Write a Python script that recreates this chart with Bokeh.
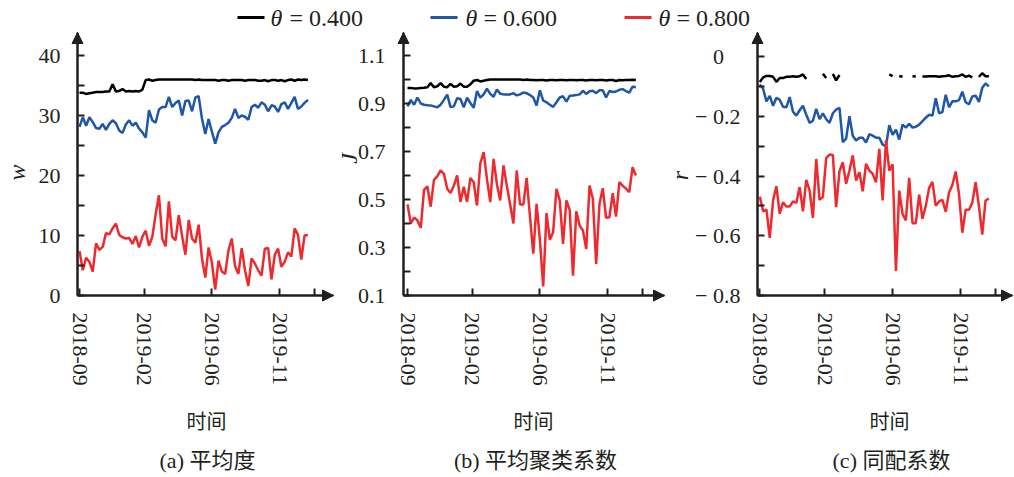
import math
from bokeh.plotting import figure
from bokeh.layouts import column, row
from bokeh.models import Range1d, FixedTicker, Arrow, NormalHead, CustomJSTickFormatter, Label
from bokeh.core.properties import value
from bokeh.embed import file_html
from bokeh.resources import INLINE

nan = float("nan")

# ---------------- data ----------------
x_index = list(range(70))
xtick_pos = [0, 19.5, 40, 60.5]
xtick_labels = ["2018-09", "2019-02", "2019-06", "2019-11"]
xtick_extra = [71]

theta_labels = ["0.400", "0.600", "0.800"]
colors = ["#000000", "#1f56a8", "#ee2a2e"]

# (a) average degree w
deg_040 = [33.8, 33.8, 33.6, 33.7, 33.8, 33.9, 33.9, 33.9, 34.0, 34.0,
           35.2, 34.0, 34.1, 34.4, 34.0, 34.1, 34.0, 34.1, 34.0, 34.3,
           35.9, 36.0, 35.8, 35.9, 36.0, 36.0, 36.0, 36.0, 36.0, 36.0,
           36.0, 36.0, 36.0, 36.0, 36.0, 35.9, 36.0, 35.9, 35.9, 35.9,
           35.9, 35.9, 35.8, 35.9, 35.9, 35.8, 35.9, 35.9, 35.9, 35.9,
           35.8, 35.9, 35.9, 35.9, 35.8, 35.8, 35.9, 35.7, 35.9, 35.9,
           35.8, 35.9, 35.7, 35.9, 36.0, 35.8, 36.0, 35.9, 36.0, 35.9]
deg_060 = [28.1, 29.7, 28.3, 29.7, 28.9, 27.9, 27.8, 28.6, 27.6, 28.6,
           29.2, 28.7, 27.5, 27.1, 28.5, 29.2, 28.3, 28.8, 27.8, 27.2,
           26.3, 30.9, 29.2, 28.8, 31.0, 31.4, 31.4, 33.1, 31.4, 32.1,
           32.5, 30.0, 32.4, 32.5, 30.7, 33.0, 33.2, 29.5, 26.9, 29.4,
           27.3, 25.3, 27.2, 28.1, 28.4, 28.8, 29.6, 31.1, 29.6, 30.0,
           29.8, 29.3, 31.4, 31.8, 31.3, 32.2, 31.8, 30.7, 31.7, 31.5,
           30.6, 31.9, 32.2, 31.1, 32.1, 33.1, 31.1, 31.5, 32.1, 32.6]
deg_080 = [7.4, 4.2, 6.3, 5.6, 4.0, 8.7, 7.6, 8.1, 10.4, 10.2,
           11.2, 12.0, 10.1, 9.7, 9.5, 9.6, 8.6, 9.9, 8.0, 9.8,
           10.8, 8.3, 9.8, 13.5, 16.7, 9.5, 8.2, 15.7, 9.8, 9.2,
           13.4, 9.9, 6.8, 12.6, 9.5, 8.8, 11.8, 6.2, 3.0, 8.0,
           5.5, 1.0, 5.8, 4.0, 3.6, 7.5, 9.5, 4.9, 3.6, 7.9,
           4.2, 1.6, 6.2, 5.3, 4.2, 3.3, 7.8, 7.9, 2.7, 6.8,
           7.8, 4.8, 5.6, 7.2, 6.5, 11.2, 10.1, 6.0, 10.0, 10.1]

# (b) average clustering coefficient J
clu_040 = [0.965, 0.965, 0.963, 0.963, 0.965, 0.966, 0.968, 0.985, 0.968, 0.972,
           0.985, 0.970, 0.968, 0.982, 0.970, 0.972, 0.983, 0.970, 0.970, 0.980,
           0.995, 0.998, 0.992, 0.995, 0.998, 1.000, 1.000, 1.000, 1.000, 1.000,
           1.000, 1.000, 1.000, 1.000, 1.000, 0.998, 1.000, 0.998, 0.998, 0.997,
           0.998, 0.998, 0.996, 0.998, 0.998, 0.997, 0.998, 0.998, 0.997, 0.998,
           0.998, 0.997, 0.998, 0.998, 0.996, 0.998, 0.998, 0.997, 0.998, 0.998,
           0.996, 0.998, 0.998, 0.994, 0.998, 0.997, 0.998, 0.998, 0.999, 0.998]
clu_060 = [0.888, 0.915, 0.895, 0.925, 0.900, 0.895, 0.893, 0.892, 0.888, 0.884,
           0.895, 0.915, 0.937, 0.885, 0.888, 0.922, 0.919, 0.884, 0.924, 0.902,
           0.882, 0.952, 0.924, 0.938, 0.962, 0.940, 0.928, 0.958, 0.941, 0.938,
           0.938, 0.938, 0.943, 0.934, 0.938, 0.946, 0.943, 0.935, 0.925, 0.892,
           0.955, 0.912, 0.905, 0.895, 0.886, 0.905, 0.925, 0.930, 0.908, 0.932,
           0.933, 0.935, 0.938, 0.953, 0.940, 0.951, 0.953, 0.943, 0.955, 0.955,
           0.925, 0.952, 0.948, 0.950, 0.957, 0.960, 0.952, 0.945, 0.970, 0.968]
clu_080 = [0.480, 0.400, 0.425, 0.413, 0.382, 0.540, 0.555, 0.470, 0.582, 0.596,
           0.621, 0.607, 0.545, 0.527, 0.557, 0.600, 0.490, 0.553, 0.490, 0.590,
           0.572, 0.475, 0.650, 0.697, 0.586, 0.489, 0.669, 0.565, 0.496, 0.642,
           0.558, 0.480, 0.400, 0.621, 0.479, 0.479, 0.590, 0.430, 0.274, 0.482,
           0.332, 0.138, 0.443, 0.332, 0.364, 0.544, 0.496, 0.315, 0.496, 0.457,
           0.183, 0.451, 0.392, 0.371, 0.294, 0.558, 0.503, 0.232, 0.482, 0.547,
           0.424, 0.426, 0.526, 0.429, 0.572, 0.558, 0.545, 0.531, 0.635, 0.600]

# (c) assortativity coefficient r
ast_040 = [-0.085, -0.070, -0.065, -0.065, -0.068, -0.085, -0.072, -0.072, -0.068, -0.068,
           -0.066, -0.068, -0.066, -0.060, -0.075, nan, nan, nan, nan, -0.058,
           -0.072, nan, -0.058, -0.080, -0.062, nan, nan, nan, nan, nan,
           nan, nan, nan, nan, nan, nan, nan, nan, nan, -0.060,
           -0.066, nan, -0.065, -0.068, nan, nan, -0.066, -0.067, nan, -0.067,
           -0.067, -0.066, -0.066, -0.066, -0.068, -0.066, -0.065, -0.063, -0.068, -0.066,
           -0.065, -0.060, -0.068, -0.064, -0.070, nan, -0.068, -0.056, -0.066, -0.066]
ast_060 = [-0.094, -0.108, -0.150, -0.132, -0.165, -0.138, -0.145, -0.168, -0.170, -0.136,
           -0.185, -0.198, -0.180, -0.165, -0.195, -0.222, -0.215, -0.175, -0.210, -0.190,
           -0.210, -0.222, -0.190, -0.178, -0.172, -0.287, -0.275, -0.200, -0.265, -0.281,
           -0.272, -0.272, -0.288, -0.260, -0.265, -0.272, -0.272, -0.295, -0.300, -0.230,
           -0.262, -0.245, -0.278, -0.228, -0.238, -0.225, -0.238, -0.235, -0.228, -0.216,
           -0.205, -0.195, -0.198, -0.140, -0.190, -0.186, -0.128, -0.170, -0.150, -0.150,
           -0.146, -0.118, -0.153, -0.160, -0.134, -0.131, -0.152, -0.105, -0.090, -0.100]
ast_080 = [-0.469, -0.518, -0.513, -0.607, -0.482, -0.434, -0.527, -0.488, -0.502, -0.502,
           -0.485, -0.490, -0.437, -0.518, -0.413, -0.449, -0.540, -0.343, -0.480, -0.470,
           -0.340, -0.328, -0.330, -0.504, -0.384, -0.354, -0.426, -0.382, -0.331, -0.415,
           -0.387, -0.451, -0.359, -0.382, -0.393, -0.421, -0.309, -0.482, -0.281, -0.382,
           -0.361, -0.718, -0.449, -0.527, -0.549, -0.406, -0.558, -0.558, -0.462, -0.543,
           -0.500, -0.440, -0.420, -0.500, -0.485, -0.480, -0.520, -0.455, -0.430, -0.385,
           -0.460, -0.590, -0.513, -0.513, -0.490, -0.421, -0.500, -0.596, -0.482, -0.476]

# ---------------- layout / styling ----------------
AXC = "#231f20"
SERIF = "Liberation Serif"
MIXED = "'Liberation Serif', 'Noto Sans CJK SC'"
LEG_H = 30            # legend strip height (window px)
PANEL_H = 447         # panel height (window px 30..477)
AXIS_Y = 295          # window y of the x-axis line
TIP_Y = 32            # window y of the y-axis arrow tip


def make_panel(series, ylabel, title, fig_left, fig_right, axis_px, tip_px, idx0_px,
               px_per_idx, v0, px_per_unit, ymajor, yminor, ytick_standoff,
               ylabel_pos, xlabel_cx, title_cx, yfmt=None):
    width = fig_right - fig_left

    def X(px):   # window px -> data x
        return (px - idx0_px) / px_per_idx

    def Y(py):   # window py -> data y
        return v0 + (AXIS_Y - py) / px_per_unit

    xr = (X(fig_left), X(fig_right))
    yr = (Y(LEG_H + PANEL_H), Y(LEG_H))
    x_axis_at = X(axis_px)

    p = figure(width=width, height=PANEL_H, x_range=Range1d(*xr), y_range=Range1d(*yr),
               output_backend="svg", toolbar_location=None, min_border=0,
               min_border_left=0, min_border_right=0, min_border_top=0, min_border_bottom=0)
    p.grid.visible = False
    p.outline_line_color = None
    p.background_fill_color = "white"
    p.border_fill_color = "white"

    for ys, c in zip(series, colors):
        p.line(x_index, ys, line_color=c, line_width=2.5)

    # x axis (drawn at y = v0)
    xa = p.xaxis[0]
    xa.fixed_location = v0
    xa.bounds = (x_axis_at, X(tip_px))
    xa.ticker = FixedTicker(ticks=xtick_pos, minor_ticks=xtick_extra)
    xa.formatter = CustomJSTickFormatter(args=dict(pos=xtick_pos, lab=xtick_labels), code="""
        const i = pos.indexOf(tick);
        return i >= 0 ? lab[i] : "";
    """)
    xa.major_label_orientation = "vertical"
    xa.major_label_standoff = 17

    # y axis (drawn at the left end of the data)
    ya = p.yaxis[0]
    ya.fixed_location = x_axis_at
    ya.bounds = (v0, Y(TIP_Y))
    ya.ticker = FixedTicker(ticks=ymajor, minor_ticks=yminor)
    if yfmt is not None:
        ya.formatter = yfmt
    ya.major_label_standoff = ytick_standoff

    for ax in (xa, ya):
        ax.axis_line_color = AXC
        ax.axis_line_width = 2
        ax.major_tick_in = 7
        ax.major_tick_out = 0
        ax.minor_tick_in = 7
        ax.minor_tick_out = 0
        ax.major_tick_line_color = AXC
        ax.minor_tick_line_color = AXC
        ax.major_tick_line_width = 2
        ax.minor_tick_line_width = 2
        ax.major_label_text_font = SERIF
        ax.major_label_text_font_size = "22px"
        ax.major_label_text_color = AXC

    # arrow heads on both axes
    head = dict(size=11, fill_color=AXC, line_color=AXC, line_width=1)
    p.add_layout(Arrow(end=NormalHead(**head), x_start=x_axis_at, y_start=v0,
                       x_end=x_axis_at, y_end=Y(TIP_Y), line_color=AXC, line_width=2))
    p.add_layout(Arrow(end=NormalHead(**head), x_start=x_axis_at, y_start=v0,
                       x_end=X(tip_px), y_end=v0, line_color=AXC, line_width=2))

    # axis titles and panel caption
    lx, ly = ylabel_pos
    p.add_layout(Label(x=X(lx), y=Y(ly), text=ylabel, angle=math.pi / 2,
                       text_align="center", text_baseline="middle", text_font=SERIF,
                       text_font_style="italic", text_font_size="24px", text_color=AXC))
    p.add_layout(Label(x=X(xlabel_cx), y=Y(421), text="时间", text_align="center",
                       text_baseline="middle", text_font=MIXED, text_font_size="20px",
                       text_color=AXC))
    p.add_layout(Label(x=X(title_cx), y=Y(460), text=title, text_align="center",
                       text_baseline="middle", text_font=MIXED, text_font_size="22px",
                       text_color=AXC))
    return p


pa = make_panel([deg_040, deg_060, deg_080], "w", "(a) 平均度",
                fig_left=0, fig_right=334, axis_px=77, tip_px=333, idx0_px=79, px_per_idx=3.31,
                v0=0, px_per_unit=6.0,
                ymajor=[0, 10, 20, 30, 40], yminor=[5, 15, 25, 35], ytick_standoff=17,
                ylabel_pos=(16, 172), xlabel_cx=206, title_cx=207)
pb = make_panel([clu_040, clu_060, clu_080], "J", "(b) 平均聚类系数",
                fig_left=334, fig_right=665, axis_px=403, tip_px=664, idx0_px=407,
                px_per_idx=3.31, v0=0.1, px_per_unit=240.0,
                ymajor=[0.1, 0.3, 0.5, 0.7, 0.9, 1.1], yminor=[0.2, 0.4, 0.6, 0.8, 1.0],
                ytick_standoff=18, ylabel_pos=(348, 158), xlabel_cx=533, title_cx=535)
cfmt = CustomJSTickFormatter(code="""
    if (Math.abs(tick) < 1e-9) { return "0\u2008\u2007"; }
    return "\u2212 " + Math.abs(tick).toFixed(1);
""")
pc = make_panel([ast_040, ast_060, ast_080], "r", "(c) 同配系数",
                fig_left=665, fig_right=1014, axis_px=757, tip_px=1012, idx0_px=759.3,
                px_per_idx=3.32, v0=-0.8, px_per_unit=298.75,
                ymajor=[-0.8, -0.6, -0.4, -0.2, 0.0], yminor=[-0.7, -0.5, -0.3, -0.1],
                ytick_standoff=17, ylabel_pos=(679, 175), xlabel_cx=889, title_cx=891,
                yfmt=cfmt)

# ---------------- legend strip ----------------
leg = figure(width=1014, height=LEG_H, x_range=Range1d(0, 1014), y_range=Range1d(LEG_H, 0),
             output_backend="svg", toolbar_location=None,
             x_axis_location=None, y_axis_location=None, min_border=0,
             min_border_left=0, min_border_right=0, min_border_top=0, min_border_bottom=0)
leg.grid.visible = False
leg.outline_line_color = None
leg_line_x0 = [237, 430, 624]
leg_line_x1 = [264, 457, 651]
leg_theta_x = [270, 465, 658]
leg_eq_x = [289, 483, 676]
leg_y = [17, 17, 17]
leg.segment(x0=leg_line_x0, y0=leg_y, x1=leg_line_x1, y1=leg_y, line_color=colors, line_width=3)
leg.text(x=leg_theta_x, y=leg_y, text=["θ"] * 3, text_font=value(SERIF), text_font_size="24px",
         text_font_style="italic", text_baseline="middle", text_align="left", text_color=AXC)
leg.text(x=leg_eq_x, y=leg_y, text=["= " + t for t in theta_labels], text_font=value(SERIF),
         text_font_size="24px", text_baseline="middle", text_align="left", text_color=AXC)

layout = column(leg, row(pa, pb, pc, spacing=0), spacing=0)
open("out.html", "w").write(file_html(layout, INLINE))
